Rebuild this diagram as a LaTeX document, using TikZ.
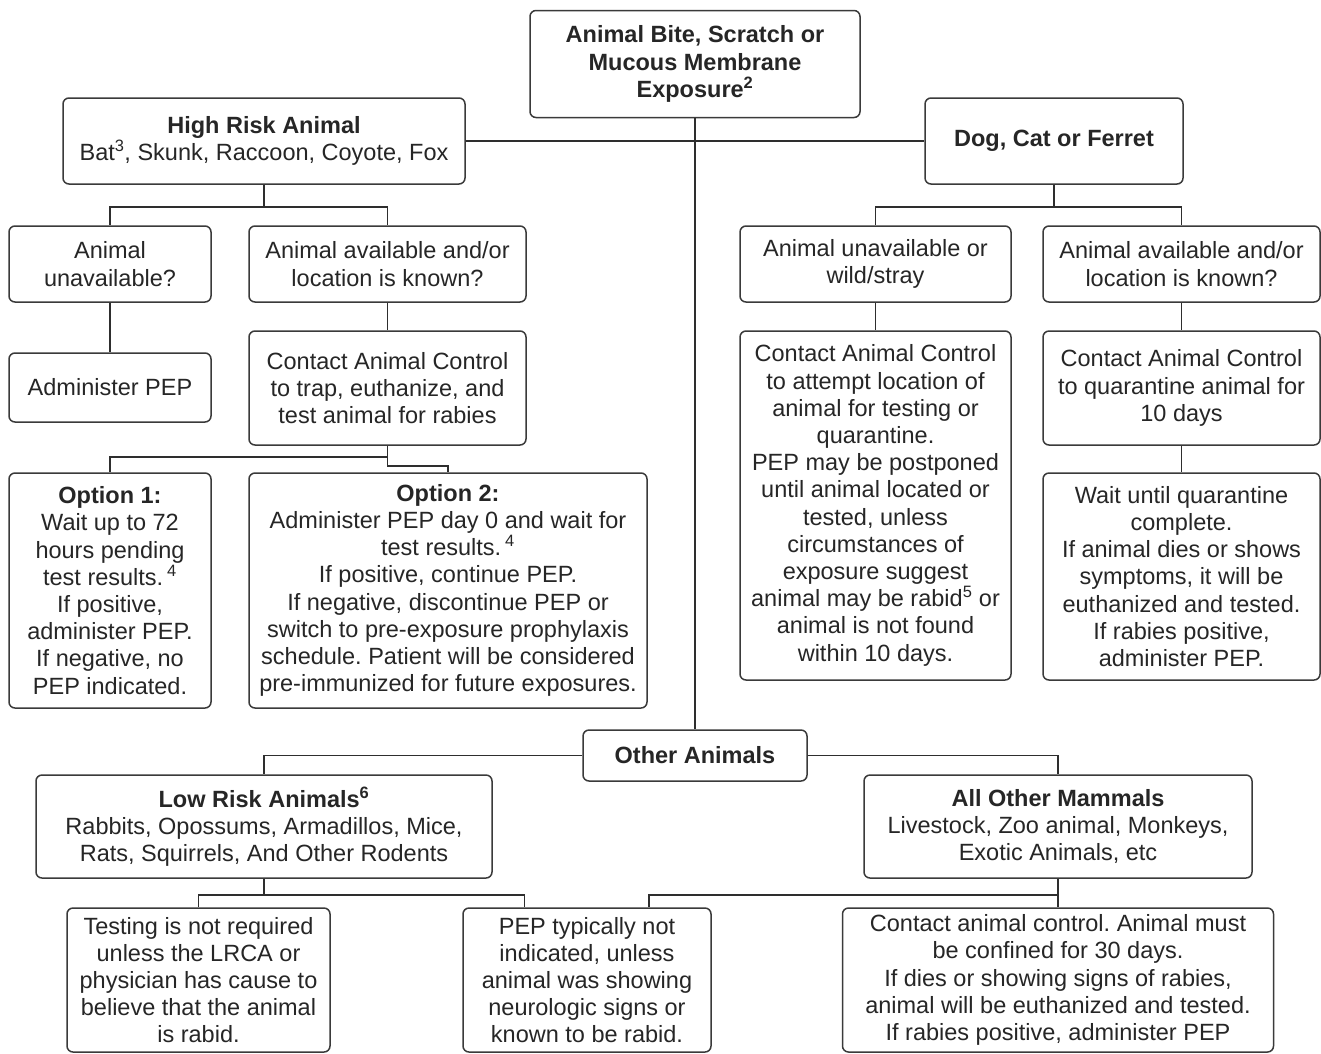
\documentclass[tikz,border=0pt]{standalone}
\usepackage{fontspec}
\setmainfont{Liberation Sans}
\definecolor{boxc}{HTML}{3A3A3A}
\definecolor{linec}{HTML}{2E2E2E}
\definecolor{txt}{HTML}{262626}
\begin{document}
\frenchspacing
\begin{tikzpicture}[x=1pt,y=-1pt,
  box/.style={draw=boxc, line width=1.5pt, rounded corners=6pt, inner sep=0pt,
    align=center, text=txt, font=\fontsize{23.5}{27.2}\selectfont},
  conn/.style={draw=linec, line width=1.5pt}]
\useasboundingbox[fill=white] (0,0) rectangle (1321,1053);

% top level
\node[box, minimum width=330pt, minimum height=107pt] (top) at (695,64)
  {\bfseries Animal Bite, Scratch or\\\bfseries Mucous Membrane\\\bfseries Exposure\textsuperscript{2}};
\node[box, minimum width=402pt, minimum height=86pt] (hr) at (264,141)
  {\textbf{High Risk Animal}\\Bat\textsuperscript{3}, Skunk, Raccoon, Coyote, Fox};
\node[box, minimum width=258pt, minimum height=86pt] (dog) at (1054,141)
  {\textbf{Dog, Cat or Ferret}};

% high risk branch
\node[box, minimum width=202pt, minimum height=76pt] (unav) at (110,264)
  {Animal\\unavailable?};
\node[box, minimum width=277pt, minimum height=76pt] (avl) at (387.5,264)
  {Animal available and/or\\location is known?};
\node[box, minimum width=202pt, minimum height=69pt] (adm) at (110,387.5)
  {Administer PEP};
\node[box, minimum width=277pt, minimum height=114pt] (cac) at (387.5,388)
  {Contact Animal Control\\to trap, euthanize, and\\test animal for rabies};
\node[box, minimum width=202pt, minimum height=235pt] (opt1) at (110,590.5)
  {\textbf{Option 1:}\\Wait up to 72\\hours pending\\test results.\,\textsuperscript{4}\\If positive,\\administer PEP.\\If negative, no\\PEP indicated.};
\node[box, minimum width=398pt, minimum height=235pt] (opt2) at (448,590.5)
  {\textbf{Option 2:}\\Administer PEP day 0 and wait for\\test results.\,\textsuperscript{4}\\If positive, continue PEP.\\If negative, discontinue PEP or\\switch to pre-exposure prophylaxis\\schedule. Patient will be considered\\pre-immunized for future exposures.};

% dog branch
\node[box, minimum width=271pt, minimum height=76pt] (wild) at (875.5,264)
  {Animal unavailable or\\wild/stray};
\node[box, minimum width=277pt, minimum height=76pt] (avr) at (1181.5,264)
  {Animal available and/or\\location is known?};
\node[box, minimum width=271pt, minimum height=349pt] (cacw) at (875.5,505.5)
  {Contact Animal Control\\to attempt location of\\animal for testing or\\quarantine.\\PEP may be postponed\\until animal located or\\tested, unless\\circumstances of\\exposure suggest\\animal may be rabid\textsuperscript{5} or\\animal is not found\\within 10 days.};
\node[box, minimum width=277pt, minimum height=114pt] (quar) at (1181.5,388)
  {Contact Animal Control\\to quarantine animal for\\10 days};
\node[box, minimum width=277pt, minimum height=207pt] (wait) at (1181.5,576.5)
  {Wait until quarantine\\complete.\\If animal dies or shows\\symptoms, it will be\\euthanized and tested.\\If rabies positive,\\administer PEP.};

% other animals
\node[box, minimum width=224pt, minimum height=51pt] (oth) at (695,755.5)
  {\textbf{Other Animals}};
\node[box, minimum width=456pt, minimum height=103pt] (low) at (264,826.5)
  {\textbf{Low Risk Animals\textsuperscript{6}}\\Rabbits, Opossums, Armadillos, Mice,\\Rats, Squirrels, And Other Rodents};
\node[box, minimum width=388pt, minimum height=103pt] (mam) at (1058,826.5)
  {\textbf{All Other Mammals}\\Livestock, Zoo animal, Monkeys,\\Exotic Animals, etc};
\node[box, minimum width=263pt, minimum height=144pt] (test) at (198.5,980)
  {Testing is not required\\unless the LRCA or\\physician has cause to\\believe that the animal\\is rabid.};
\node[box, minimum width=248pt, minimum height=144pt] (pep) at (587,980)
  {PEP typically not\\indicated, unless\\animal was showing\\neurologic signs or\\known to be rabid.};
\node[box, minimum width=431pt, minimum height=144pt] (ctl) at (1058,980)
  {Contact animal control. Animal must\\be confined for 30 days.\\If dies or showing signs of rabies,\\animal will be euthanized and tested.\\If rabies positive, administer PEP};

% junction points
\coordinate (j1) at (264,207);
\coordinate (j2) at (1054,207);
\coordinate (j3) at (387.5,457);
\coordinate (j3b) at (387.5,466);
\coordinate (j5) at (264,895);
\coordinate (j6) at (1058,895);

% connectors
\draw[conn] (top.south) -- (oth.north);
\draw[conn] (hr.east) -- (dog.west);
\draw[conn] (hr.south) -- (j1) -| (unav.north);
\draw[conn] (j1) -| (avl.north);
\draw[conn] (unav.south) -- (adm.north);
\draw[conn] (avl.south) -- (cac.north);
\draw[conn] (cac.south) -- (j3) -| (opt1.north);
\draw[conn] (j3) -- (j3b) -| (opt2.north);
\draw[conn] (dog.south) -- (j2) -| (wild.north);
\draw[conn] (j2) -| (avr.north);
\draw[conn] (wild.south) -- (cacw.north);
\draw[conn] (avr.south) -- (quar.north);
\draw[conn] (quar.south) -- (wait.north);
\draw[conn] (oth.west) -| (low.north);
\draw[conn] (oth.east) -| (mam.north);
\draw[conn] (low.south) -- (j5) -| (test.north);
\draw[conn] (j5) -| ([xshift=62pt]pep.north west);
\draw[conn] (mam.south) -- (j6) -- (ctl.north);
\draw[conn] (j6) -| ([xshift=-63pt]pep.north east);
\end{tikzpicture}
\end{document}
